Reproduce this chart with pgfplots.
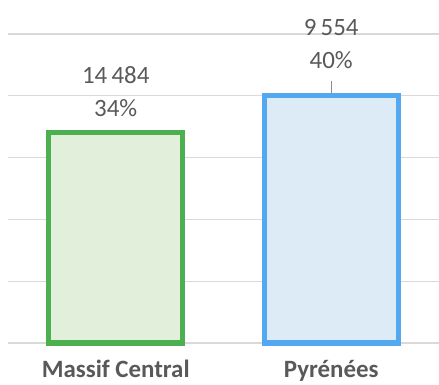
\documentclass[border=0pt]{standalone}
\usepackage{fontspec}
\setmainfont{Carlito}
\usepackage{pgfplots}
\pgfplotsset{compat=1.18}
\usepackage{pgfplotstable}

\definecolor{mcLine}{RGB}{76,175,80}
\definecolor{mcFill}{RGB}{226,239,218}
\definecolor{pyLine}{RGB}{84,168,240}
\definecolor{pyFill}{RGB}{221,235,247}
\definecolor{txt}{RGB}{89,89,89}
\definecolor{grid}{RGB}{217,217,217}

% category index, share (%), count
\pgfplotstableread{
x pct n
0 34 14484
}\massif
\pgfplotstableread{
x pct n
1 40 9554
}\pyrenees

\begin{document}
\begin{tikzpicture}
\useasboundingbox (-8bp,-42bp) rectangle (431bp,343bp);
\begin{axis}[
  at={(0,0)}, anchor=south west,
  scale only axis, width=431bp, height=309bp,
  xmin=-0.5, xmax=1.5, ymin=0, ymax=50,
  ybar, bar width=134bp, bar shift=0pt,
  axis line style={draw=none},
  ytick={0,10,...,50}, yticklabels={},
  ymajorgrids, major grid style={draw=grid, line width=1.3bp},
  major tick length=0pt,
  xtick={0,1}, xticklabels={Massif Central, Pyrénées},
  xticklabel style={font=\fontsize{25}{30}\selectfont\bfseries, text=txt, yshift=-14bp},
  /pgf/number format/assume math mode=true,
  point meta=explicit,
  nodes near coords={\pgfmathprintnumber[1000 sep={\,}]{\pgfplotspointmeta}\\\pgfmathprintnumber{\pgfkeysvalueof{/data point/y}}\%},
  every node near coord/.append style={font=\fontsize{25}{33}\selectfont, text=txt,
    align=center, anchor=south, inner sep=0pt},
  clip=false,
]
\addplot[draw=mcLine, fill=mcFill, line width=5bp,
  every node near coord/.append style={yshift=14bp}]
  table[x=x, y=pct, meta=n] {\massif};
\addplot[draw=pyLine, fill=pyFill, line width=5bp,
  every node near coord/.append style={yshift=25bp}]
  table[x=x, y=pct, meta=n] {\pyrenees};
\draw[txt!70, line width=0.8bp] ([yshift=3bp]axis cs:1,40) -- ([yshift=15bp]axis cs:1,40);
\end{axis}
\end{tikzpicture}
\end{document}
